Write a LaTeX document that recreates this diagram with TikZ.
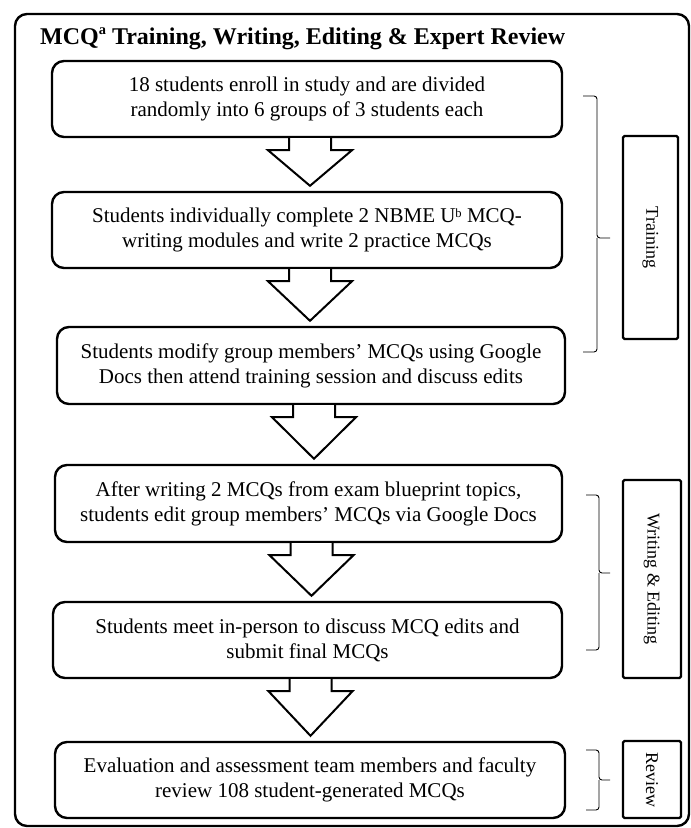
\documentclass[tikz,border=0pt]{standalone}
\usepackage{fontspec}
\setmainfont{Liberation Serif}
\usetikzlibrary{calc,positioning}
\newcommand{\smallsup}[2]{\raisebox{#1}{\scalebox{0.6}{#2}}}

\begin{document}
\begin{tikzpicture}[x=1pt, y=-1pt,
    stepbox/.style={draw, line width=2.4pt, rounded corners=12pt, fill=white, align=center,
        font=\fontsize{21}{25}\selectfont, inner sep=0pt},
    phasebox/.style={draw, line width=2.4pt, rounded corners=1.5pt, align=center,
        font=\fontsize{18}{22}\selectfont, inner sep=0pt},
    blockarrow/.style={draw, line width=2pt, fill=white, line join=miter},
    bracket/.style={draw, line width=0.9pt, rounded corners=3pt}]

\useasboundingbox (0,0) rectangle (691,828);

% Outer frame and title
\draw[line width=2.4pt, rounded corners=12pt] (15,14) rectangle (689,826);
\node[anchor=base west, font=\fontsize{24}{28}\selectfont\bfseries, inner sep=0pt] (title) at (40,44)
    {MCQ\smallsup{0.38em}{a} Training, Writing, Editing \& Expert Review};

% Steps
\node[stepbox, minimum width=510pt, minimum height=76pt] (b1) at (307,99)
    {18 students enroll in study and are divided\\randomly into 6 groups of 3 students each};
\node[stepbox, minimum width=510pt, minimum height=76pt] (b2) at (307,230)
    {Students individually complete 2 NBME U\smallsup{0.25em}{b} MCQ-\\writing modules and write 2 practice MCQs};
\node[stepbox, minimum width=508pt, minimum height=77pt] (b3) at (311,365.5)
    {Students modify group members’ MCQs using Google\\Docs then attend training session and discuss edits};
\node[stepbox, minimum width=507pt, minimum height=77pt] (b4) at (308.5,503.5)
    {After writing 2 MCQs from exam blueprint topics,\\students edit group members’ MCQs via Google Docs};
\node[stepbox, minimum width=509pt, minimum height=76pt] (b5) at (307.5,640)
    {Students meet in-person to discuss MCQ edits and\\submit final MCQs};
\node[stepbox, minimum width=510pt, minimum height=76pt] (b6) at (310,780)
    {Evaluation and assessment team members and faculty\\review 108 student-generated MCQs};

% Block arrows between steps
\foreach \a/\b in {b1/b2, b2/b3, b3/b4, b4/b5, b5/b6} {
    \draw[blockarrow] let \p1=(\a.south), \p2=(\b.north) in
        (\x1-18pt,\y1) -- (\x1-18pt,\y1-12pt) -- (\x1-39pt,\y1-12pt) -- (\x1+3pt,\y2+5pt)
        -- (\x1+45pt,\y1-12pt) -- (\x1+24pt,\y1-12pt) -- (\x1+24pt,\y1);
}

% Phase labels
\node[phasebox, minimum width=55pt, minimum height=203pt] (train) at (650.5,237.5)
    {\rotatebox{-90}{Training}};
\node[phasebox, minimum width=58pt, minimum height=198pt] (write) at (652,579)
    {\rotatebox{-90}{Writing \& Editing}};
\node[phasebox, minimum width=58pt, minimum height=77pt] (review) at (652,779.5)
    {\rotatebox{-90}{Review}};

% Brackets
\draw[bracket] (583,96) -| (597,238) -- (610,238) (597,238) |- (583,352);
\draw[bracket] (586,495) -| (599,573) -- (610,573) (599,573) |- (586,650);
\draw[bracket] (586,750) -| (599,780) -- (610,780) (599,780) |- (586,810);

\end{tikzpicture}
\end{document}
